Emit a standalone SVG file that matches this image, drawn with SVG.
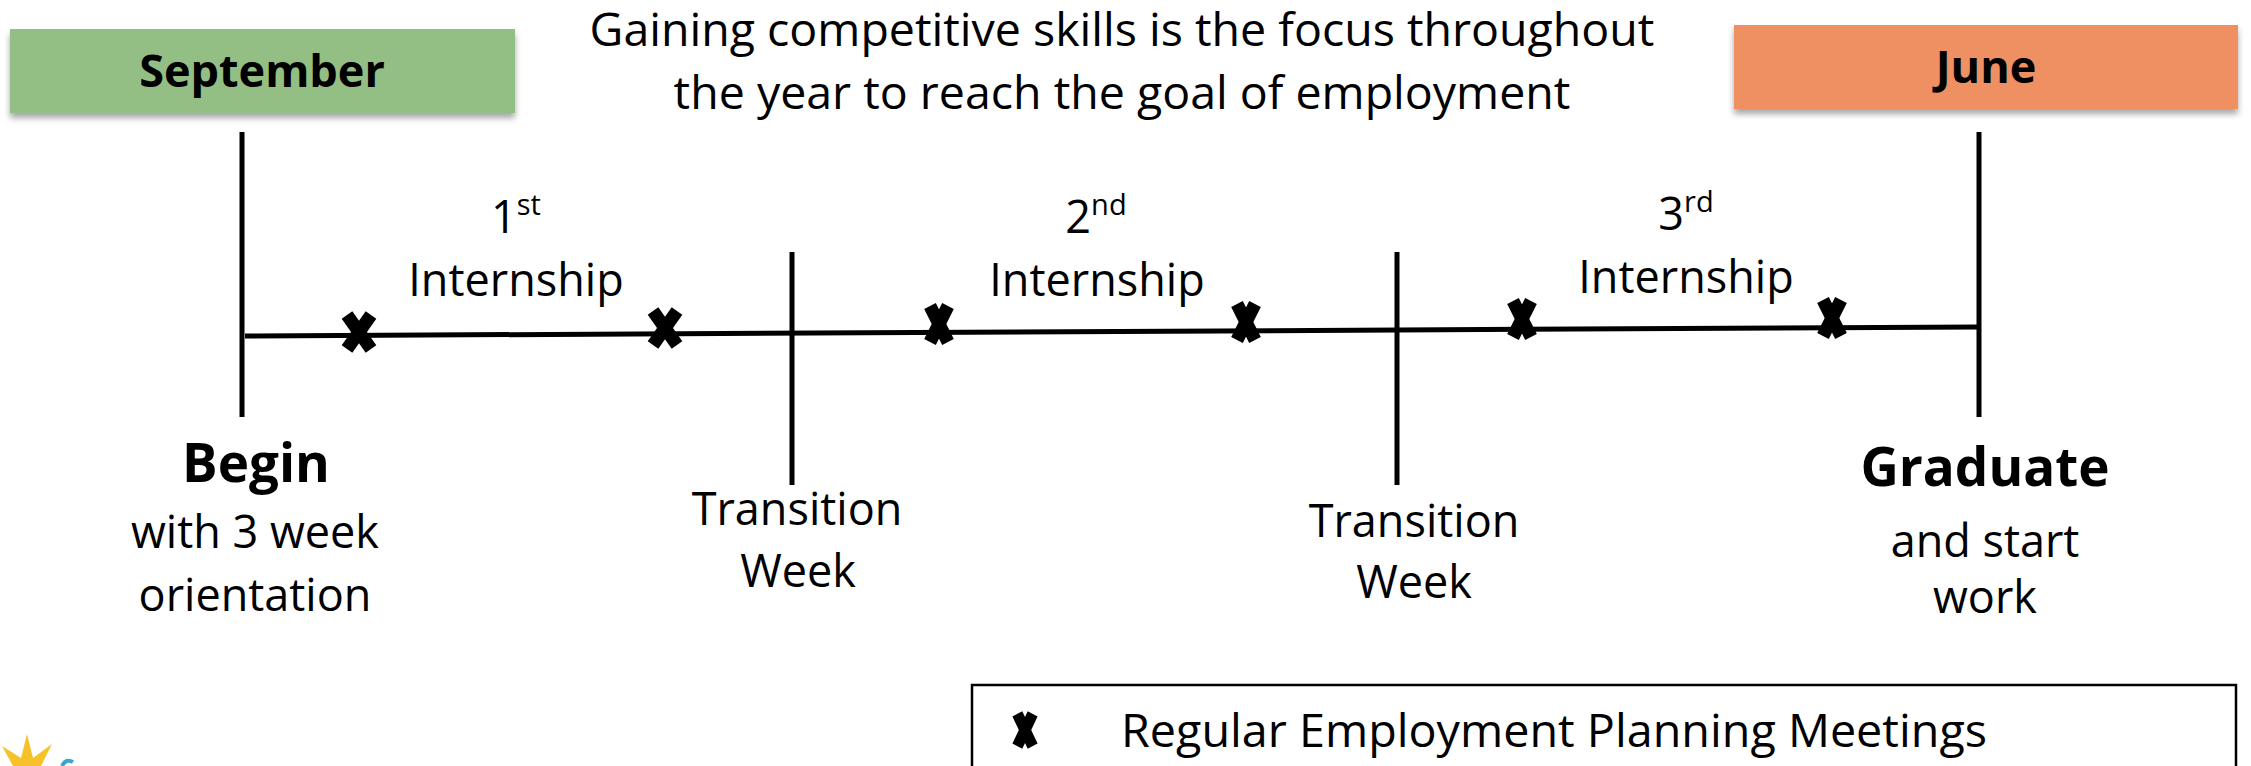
<svg xmlns="http://www.w3.org/2000/svg" width="2251" height="766" viewBox="0 0 2251 766">
<style>
text{font-family:"Open Sans","Liberation Sans",sans-serif;fill:#000;}
.r{font-size:45px;text-anchor:middle;}
.t{font-size:46.5px;text-anchor:middle;}
.b{font-size:53px;font-weight:bold;text-anchor:middle;}
.hb{font-size:45px;font-weight:bold;text-anchor:middle;}
.sup{font-size:29px;}
.ln{stroke:#000;stroke-width:5;fill:none;}
.xm{stroke:#000;stroke-width:13;stroke-linecap:butt;}
</style>
<defs>
<filter id="sh" x="-5%" y="-20%" width="110%" height="150%">
<feDropShadow dx="0" dy="5" stdDeviation="3" flood-color="#000" flood-opacity="0.35"/>
</filter>
<g id="xw"><line class="xm" x1="-12" y1="-17" x2="12" y2="17"/><line class="xm" x1="12" y1="-17" x2="-12" y2="17"/></g>
<g id="xn"><line class="xm" x1="-9" y1="-18" x2="9" y2="18"/><line class="xm" x1="9" y1="-18" x2="-9" y2="18"/></g>
</defs>
<rect width="2251" height="766" fill="#fff"/>

<g id="title">
<text class="t" x="1122" y="46">Gaining competitive skills is the focus throughout</text>
<text class="t" x="1122" y="109">the year to reach the goal of employment</text>
</g>

<g id="september">
<rect x="10" y="29" width="505" height="84" fill="#93BE84" filter="url(#sh)"/>
<text class="hb" x="262" y="87">September</text>
</g>

<g id="june">
<rect x="1734" y="25" width="504" height="84" fill="#EF9062" filter="url(#sh)"/>
<text class="hb" x="1986" y="83">June</text>
</g>

<g id="connectors">
<line class="ln" x1="245" y1="336" x2="1979" y2="327"/>
<line class="ln" x1="242" y1="132" x2="242" y2="417"/>
<line class="ln" x1="792" y1="252" x2="792" y2="485"/>
<line class="ln" x1="1397" y1="252" x2="1397" y2="485"/>
<line class="ln" x1="1979" y1="132" x2="1979" y2="417"/>
</g>

<g id="meetings">
<use href="#xw" x="359" y="332"/>
<use href="#xw" x="665" y="328"/>
<use href="#xn" x="939" y="324"/>
<use href="#xn" x="1246" y="322"/>
<use href="#xn" x="1522" y="319"/>
<use href="#xn" x="1832" y="318"/>
</g>

<g id="internship1">
<text class="r" x="516" y="233">1<tspan class="sup" dy="-18">st</tspan></text>
<text class="r" x="516" y="296">Internship</text>
</g>
<g id="internship2">
<text class="r" x="1096" y="233">2<tspan class="sup" dy="-18">nd</tspan></text>
<text class="r" x="1097" y="296">Internship</text>
</g>
<g id="internship3">
<text class="r" x="1686" y="230">3<tspan class="sup" dy="-18">rd</tspan></text>
<text class="r" x="1686" y="293">Internship</text>
</g>

<g id="begin">
<text class="b" x="256" y="482">Begin</text>
<text class="r" x="255" y="548">with 3 week</text>
<text class="r" x="255" y="611">orientation</text>
</g>

<g id="transition1">
<text class="r" x="797" y="525">Transition</text>
<text class="r" x="798" y="587">Week</text>
</g>

<g id="transition2">
<text class="r" x="1414" y="537">Transition</text>
<text class="r" x="1414" y="598">Week</text>
</g>

<g id="graduate">
<text class="b" x="1985" y="486">Graduate</text>
<text class="r" x="1985" y="557">and start</text>
<text class="r" x="1985" y="613">work</text>
</g>

<g id="legend">
<rect x="972" y="685" width="1264" height="100" fill="none" stroke="#000" stroke-width="2.5"/>
<use href="#xn" transform="translate(1025,730) scale(0.85,0.9)"/>
<text x="1121" y="747" textLength="866" lengthAdjust="spacingAndGlyphs" style="font-size:46px;">Regular Employment Planning Meetings</text>
</g>

<g id="logo">
<polygon points="27,734 33,758 52,744 41,766 13,766 2,746 21,758" fill="#F6C22A"/>
<circle cx="27" cy="775" r="9" fill="#E8803A"/>
<path d="M62,766 Q66,758 73,762" stroke="#3AA6C8" stroke-width="4" fill="none"/>
</g>
</svg>
